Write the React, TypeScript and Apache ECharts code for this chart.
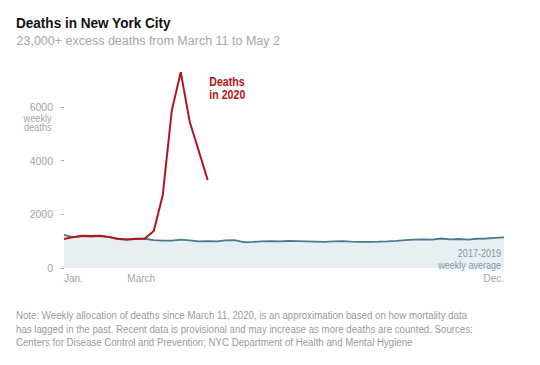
import { useEffect, useRef } from 'react';
import * as echarts from 'echarts';

const averageDeaths = [
  1230, 1150, 1190, 1170, 1190, 1150, 1080, 1060, 1080, 1090,
  1040, 1020, 1020, 1060, 1030, 990, 1000, 990, 1030, 1040,
  960, 970, 990, 1000, 990, 1010, 1000, 990, 980, 970,
  990, 1000, 980, 970, 975, 980, 990, 1010, 1040, 1060,
  1070, 1060, 1100, 1070, 1080, 1060, 1090, 1100, 1120, 1140,
];
const deaths2020 = [
  1080, 1150, 1200, 1190, 1200, 1160, 1090, 1060, 1090, 1100,
  1380, 2720, 5860, 7300, 5450, 4370, 3280,
];
const xTickWeeks = [0, 8.6, 49];
const xTickLabels = ['Jan.', 'March', 'Dec.'];
const yTickValues = [0, 2000, 4000, 6000];
const noteLines = [
  'Note: Weekly allocation of deaths since March 11, 2020, is an approximation based on how mortality data',
  'has lagged in the past. Recent data is provisional and may increase as more deaths are counted. Sources:',
  'Centers for Disease Control and Prevention; NYC Department of Health and Mental Hygiene',
];

const FONT = '"Liberation Sans", Arial, sans-serif';

export default function App() {
  const ref = useRef<HTMLDivElement>(null);
  useEffect(() => {
    const chart = echarts.init(ref.current!, null, { renderer: 'svg' });
    chart.setOption({
      animation: false,
      backgroundColor: '#ffffff',
      grid: { left: 64, right: 36, top: 53.33, bottom: 97, outerBoundsMode: 'none' },
      xAxis: {
        type: 'value',
        min: 0,
        max: averageDeaths.length - 1,
        axisLine: { show: false },
        axisTick: { show: false },
        splitLine: { show: false },
        axisLabel: {
          customValues: xTickWeeks,
          formatter: (v: number) => {
            const i = xTickWeeks.indexOf(v);
            return i >= 0 ? xTickLabels[i] : '';
          },
          color: '#a3a3a3',
          fontSize: 10,
          fontFamily: FONT,
          margin: 5,
          alignMinLabel: 'left',
          alignMaxLabel: 'right',
        },
      },
      yAxis: {
        type: 'value',
        min: 0,
        max: 8000,
        interval: 2000,
        offset: 6,
        axisLine: { show: false },
        splitLine: { show: false },
        axisTick: { show: true, length: 3, customValues: yTickValues, lineStyle: { color: '#aaaaaa' } },
        axisLabel: {
          customValues: yTickValues,
          formatter: (v: number) => String(v),
          color: '#a3a3a3',
          fontSize: 10.5,
          fontFamily: FONT,
          margin: 5,
        },
      },
      series: [
        {
          type: 'line',
          data: averageDeaths.map((v, i) => [i, v]),
          showSymbol: false,
          lineStyle: { color: '#4a7b8c', width: 1.8 },
          itemStyle: { color: '#4a7b8c' },
          areaStyle: { color: '#e8eff3', opacity: 1 },
          z: 1,
        },
        {
          type: 'line',
          data: deaths2020.map((v, i) => [i, v]),
          showSymbol: false,
          lineStyle: { color: '#b3141c', width: 2 },
          itemStyle: { color: '#b3141c' },
          z: 2,
        },
      ],
      graphic: [
        {
          type: 'text', x: 16, y: 22.3, scaleX: 0.875, z: 100,
          style: { text: 'Deaths in New York City', fill: '#121212', font: `bold 15.5px ${FONT}`, textVerticalAlign: 'middle' },
        },
        {
          type: 'text', x: 16.5, y: 41, z: 100,
          style: { text: '23,000+ excess deaths from March 11 to May 2', fill: '#a6a6a6', font: `12.5px ${FONT}`, textVerticalAlign: 'middle' },
        },
        {
          type: 'text', x: 209.3, y: 87.5, scaleX: 0.85, z: 100,
          style: { text: 'Deaths\nin 2020', fill: '#b3141c', font: `bold 12.5px ${FONT}`, lineHeight: 13.5, textVerticalAlign: 'middle' },
        },
        {
          type: 'text', x: 501, y: 259.6, scaleX: 0.885, z: 100,
          style: { text: '2017-2019\nweekly average', fill: '#7e98a5', font: `10.2px ${FONT}`, lineHeight: 11.8, textAlign: 'right', textVerticalAlign: 'middle' },
        },
        {
          type: 'text', x: 51.7, y: 123, scaleX: 0.92, z: 100,
          style: { text: 'weekly\ndeaths', fill: '#a3a3a3', font: `10px ${FONT}`, lineHeight: 9.5, textAlign: 'right', textVerticalAlign: 'middle' },
        },
        ...noteLines.map((t, i) => ({
          type: 'text', x: 16, y: [315.7, 329.3, 342.7][i], scaleX: 0.88, z: 100,
          style: { text: t, fill: '#9a9a9a', font: `11px ${FONT}`, textVerticalAlign: 'middle' },
        })),
      ],
    });
    return () => chart.dispose();
  }, []);
  return <div ref={ref} style={{ position: 'fixed', left: 0, top: 0, width: 540, height: 365, background: '#fff' }} />;
}
